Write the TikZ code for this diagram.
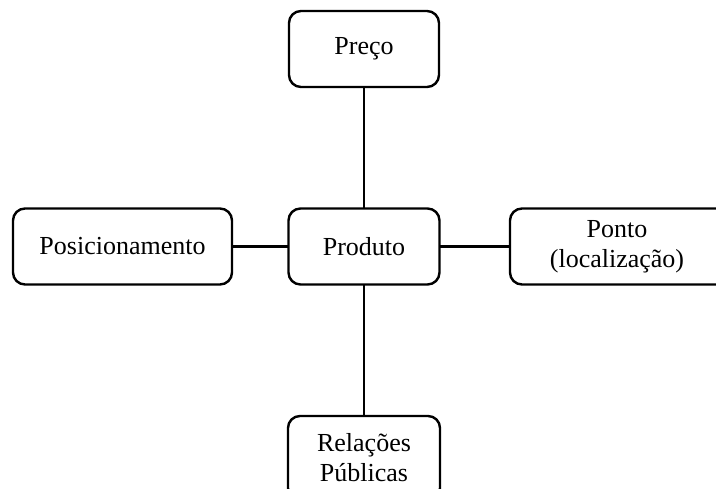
\documentclass[tikz,border=0pt]{standalone}
\usepackage{fontspec}
\setmainfont{Liberation Serif}
\begin{document}
\begin{tikzpicture}[x=1pt,y=-1pt,
  box/.style={draw, line width=2.4pt, rounded corners=12pt, align=center,
    inner sep=0pt, outer sep=0pt, minimum height=76pt,
    font=\fontsize{26}{30}\selectfont},
  link/.style={line width=2.4pt}]
  \useasboundingbox (0,0) rectangle (716,489);
  \node[box, minimum width=150pt] (preco) at (364,49) {Preço};
  \node[box, minimum width=151pt] (produto) at (364,246.5) {Produto};
  \node[box, minimum width=219pt] (posic) at (122.5,246.5) {Posicionamento};
  % box runs past the right edge; lines nudged left to sit where printed
  \node[box, minimum width=224pt, text width=214pt] (ponto) at (622,246.5)
    {\hspace*{-10pt}Ponto\\\hspace*{-10pt}(localização)};
  \node[box, minimum width=152pt, minimum height=84pt] (rp) at (364,458) {Relações\\Públicas};
  \draw[link] (preco.south) -- (produto.north);
  \draw[link] (produto.south) -- (rp.north);
  \draw[link] (posic.east) -- (produto.west);
  \draw[link] (produto.east) -- (ponto.west);
\end{tikzpicture}
\end{document}
